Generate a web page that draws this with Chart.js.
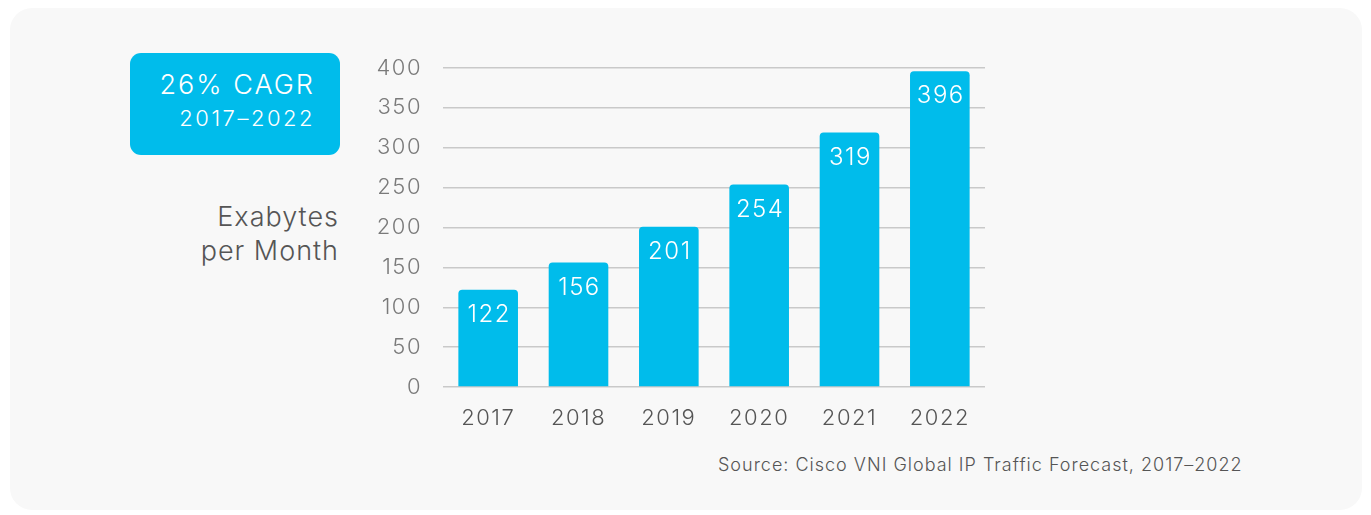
<!DOCTYPE html>
<html>
<head>
<meta charset="utf-8">
<script src="https://cdn.jsdelivr.net/npm/chart.js@4"></script>
<style>
  body { margin: 0; background: #fff; font-family: Inter, Roboto, sans-serif; }
  #wrap { position: relative; width: 1371px; height: 515px; overflow: hidden; }
  #panel { position: absolute; left: 10px; top: 8px; width: 1352px; height: 502px; background: #f8f8f8; border-radius: 22px; }
  #cagr { position: absolute; left: 130px; top: 53px; width: 210px; height: 102px; background: #00bceb; border-radius: 11px; color: #fff; }
  #cagr .big { position: absolute; right: 25px; top: 15px; font-size: 27px; font-weight: 300; letter-spacing: 2px; }
  #cagr .small { position: absolute; right: 25px; top: 52px; font-size: 22px; font-weight: 300; letter-spacing: 2.5px; }
  #ylab { position: absolute; right: 1032px; top: 200px; text-align: right; font-size: 27px; line-height: 34px; color: #555; font-weight: 300; letter-spacing: 1px; }
  #source { position: absolute; left: 718px; top: 454px; font-size: 18px; color: #555; font-weight: 300; letter-spacing: 1px; }
  canvas { position: absolute; left: 0; top: 0; }
</style>
</head>
<body>
<div id="wrap">
  <div id="panel"></div>
  <div id="cagr"><div class="big">26% CAGR</div><div class="small">2017–2022</div></div>
  <div id="ylab">Exabytes<br>per Month</div>
  <div id="source">Source: Cisco VNI Global IP Traffic Forecast, 2017–2022</div>
  <canvas id="trafficChart" width="1371" height="515"></canvas>
</div>
<script>
const years = ['2017', '2018', '2019', '2020', '2021', '2022'];
const exabytes = [122, 156, 201, 254, 319, 396];
const yTicks = [0, 50, 100, 150, 200, 250, 300, 350, 400];

const barColor = '#00bceb';
const gridColor = '#c9c9c9';

// the reference font is wide, so space the canvas text out a little
const spacing = {
  id: 'spacing',
  beforeDraw(chart) {
    chart.ctx.letterSpacing = '1.5px';
  }
};

// values drawn inside the top of each bar
const barLabels = {
  id: 'barLabels',
  afterDatasetsDraw(chart) {
    const c = chart.ctx;
    const meta = chart.getDatasetMeta(0);
    c.save();
    c.fillStyle = '#fff';
    c.font = '300 24px Inter, sans-serif';
    c.letterSpacing = '1.5px';
    c.textAlign = 'center';
    c.textBaseline = 'middle';
    meta.data.forEach((bar, i) => {
      c.fillText(exabytes[i], bar.x + 1, bar.y + 25);
    });
    c.restore();
  }
};

const ctx = document.getElementById('trafficChart').getContext('2d');
new Chart(ctx, {
  type: 'bar',
  data: {
    labels: years,
    datasets: [{
      data: exabytes,
      backgroundColor: barColor,
      borderRadius: 4,
      barPercentage: 0.66,
      categoryPercentage: 1
    }]
  },
  options: {
    responsive: false,
    animation: false,
    layout: { padding: { left: 353, right: 386, top: 68, bottom: 78 } },
    plugins: { legend: { display: false }, tooltip: { enabled: false } },
    scales: {
      x: {
        grid: { display: false },
        border: { display: false },
        ticks: { color: '#555', font: { size: 22, family: 'Inter', weight: 300 }, padding: 10 },
        afterFit(scale) { scale.height = 50; }
      },
      y: {
        min: 0,
        max: 400,
        afterBuildTicks(scale) { scale.ticks = yTicks.map(v => ({ value: v })); },
        grid: { color: gridColor, lineWidth: 1.5, drawTicks: false },
        border: { display: false },
        ticks: { color: '#7a7a7a', font: { size: 22, family: 'Inter', weight: 300 }, padding: 21 },
        afterFit(scale) { scale.width = 90; }
      }
    }
  },
  plugins: [spacing, barLabels]
});
</script>
</body>
</html>
